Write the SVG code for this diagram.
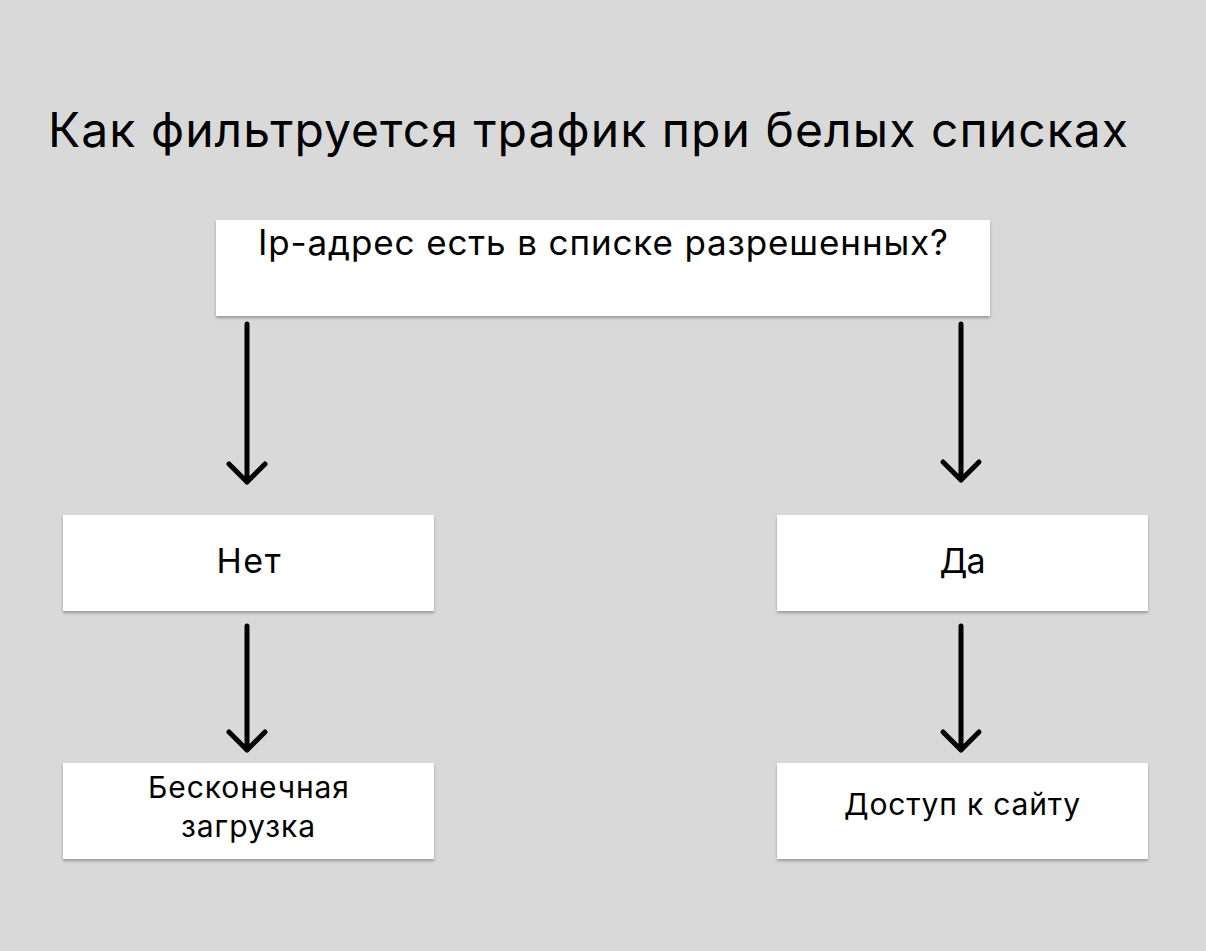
<svg xmlns="http://www.w3.org/2000/svg" width="1206" height="951" viewBox="0 0 1206 951">
<style>
.box{fill:#fff;filter:url(#sh)}
.t{font-family:Inter,"Noto Sans",sans-serif;fill:#000;text-anchor:middle}
.c{stroke:#000;stroke-width:5;fill:none;stroke-linecap:round;stroke-linejoin:round}
</style>
<defs>
<filter id="sh" x="-5%" y="-10%" width="110%" height="130%">
<feDropShadow dx="0" dy="2" stdDeviation="1.5" flood-color="#000" flood-opacity="0.3"/>
</filter>
</defs>
<rect width="1206" height="951" fill="#d9d9d9"/>
<text x="48" y="147" font-family="Inter,'Noto Sans',sans-serif" font-size="48" fill="#000" textLength="1080" lengthAdjust="spacing">Как фильтруется трафик при белых списках</text>
<g id="q">
<rect class="box" x="216" y="220" width="774" height="96"/>
<text class="t" x="603" y="255" font-size="35" textLength="690" lengthAdjust="spacing">Ip-адрес есть в списке разрешенных?</text>
</g>
<g id="no">
<rect class="box" x="63" y="515" width="371" height="96"/>
<text class="t" x="248.5" y="573" font-size="34" textLength="64" lengthAdjust="spacing">Нет</text>
</g>
<g id="yes">
<rect class="box" x="777" y="515" width="371" height="96"/>
<text class="t" x="962.5" y="573" font-size="34" textLength="46" lengthAdjust="spacing">Да</text>
</g>
<g id="loading">
<rect class="box" x="63" y="763" width="371" height="96"/>
<text class="t" x="248.5" y="798" font-size="30" textLength="201" lengthAdjust="spacing">Бесконечная</text>
<text class="t" x="248" y="837" font-size="30" textLength="134" lengthAdjust="spacing">загрузка</text>
</g>
<g id="access">
<rect class="box" x="777" y="763" width="371" height="96"/>
<text class="t" x="962" y="815" font-size="30" textLength="236" lengthAdjust="spacing">Доступ к сайту</text>
</g>
<g id="connectors">
<path class="c" d="M247 324V482M229 464L247 482L265 464"/>
<path class="c" d="M961 324V480M943 462L961 480L979 462"/>
<path class="c" d="M247 626V750M229 732L247 750L265 732"/>
<path class="c" d="M961 626V750M943 732L961 750L979 732"/>
</g>
</svg>
